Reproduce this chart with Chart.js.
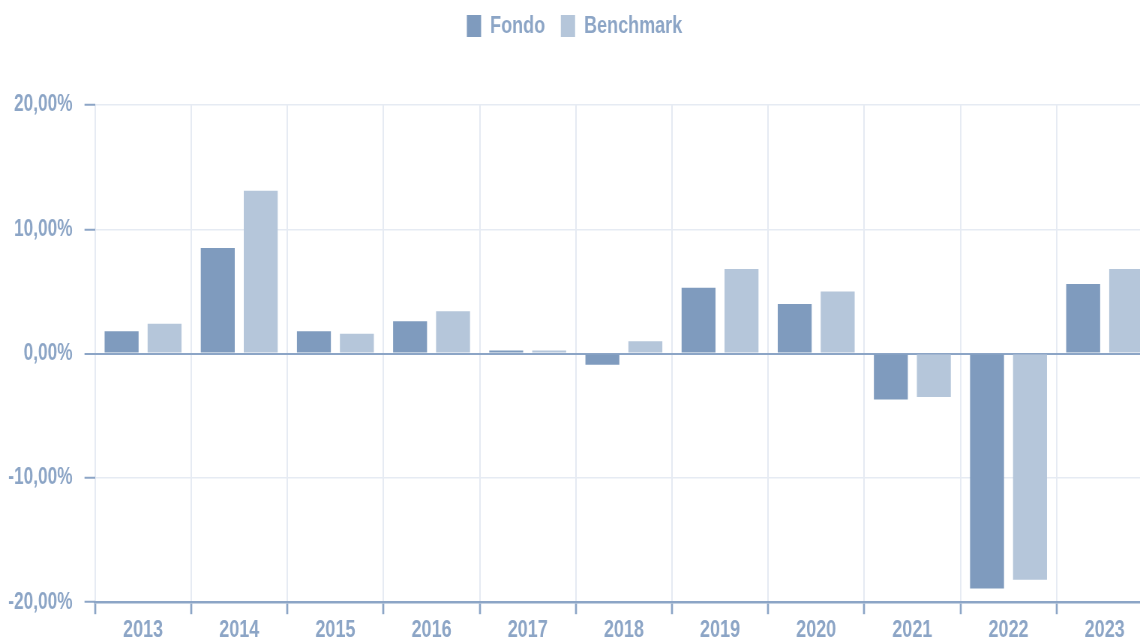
<!DOCTYPE html>
<html>
<head>
<meta charset="utf-8">
<script src="https://cdn.jsdelivr.net/npm/chart.js@4.4.0/dist/chart.umd.min.js"></script>
<style>
    html, body { margin: 0; padding: 0; background: #fff; overflow: hidden; }
    #wrap { width: 1140px; height: 639px; overflow: hidden; }
    /* the reference text is condensed; draw wide and squeeze horizontally */
    #squeeze { transform: scaleX(0.75); transform-origin: 0 0; width: 1547px; }
</style>
</head>
<body>
<div id="wrap"><div id="squeeze"><canvas id="chart" width="1547" height="660"></canvas></div></div>
<script>
// Data
const years = ["2013", "2014", "2015", "2016", "2017", "2018", "2019", "2020", "2021", "2022", "2023"];
const fondo = [1.8, 8.5, 1.8, 2.6, 0.25, -0.9, 5.3, 4.0, -3.7, -18.9, 5.6];
const benchmark = [2.4, 13.1, 1.6, 3.4, 0.25, 1.0, 6.8, 5.0, -3.5, -18.2, 6.8];

// Colors
const textColor = "#8ca5c6";
const gridColor = "#e6ebf3";
const axisColor = "#8ca5c6";
const family = "'Liberation Sans', Arial, sans-serif";
const font = { family, weight: "bold", size: 24 };
const yFont = { family, weight: "bold", size: 23 };

// Push the plot area down below the legend
const legendMargin = {
    id: "legendMargin",
    beforeInit(chart) {
        const fit = chart.legend.fit;
        chart.legend.fit = function () {
            fit.bind(chart.legend)();
            this.height += 57;
        };
    },
};

new Chart(document.getElementById("chart"), {
    type: "bar",
    data: {
        labels: years,
        datasets: [
            { label: "Fondo", data: fondo, backgroundColor: "#7f9bbe" },
            { label: "Benchmark", data: benchmark, backgroundColor: "#b5c6da" },
        ],
    },
    options: {
        responsive: false,
        animation: false,
        layout: { padding: { left: -5, right: 10, top: -7, bottom: 13 } },
        datasets: { bar: { categoryPercentage: 0.894, barPercentage: 0.79 } },
        plugins: {
            legend: {
                position: "top",
                labels: { color: textColor, font, boxWidth: 19, boxHeight: 22, padding: 21 },
            },
            tooltip: { enabled: false },
        },
        scales: {
            x: {
                grid: { color: gridColor, lineWidth: 2, tickColor: axisColor, tickLength: 12, tickWidth: 2.67, offset: true },
                border: { color: axisColor, width: 2.5 },
                ticks: { color: textColor, font, padding: 2 },
            },
            y: {
                min: -20,
                max: 20,
                ticks: {
                    stepSize: 10,
                    color: textColor,
                    font: yFont,
                    padding: 16,
                    callback: (v) => v.toFixed(2).replace(".", ",") + "%",
                },
                grid: {
                    color: (ctx) => (ctx.tick && ctx.tick.value === 0 ? axisColor : gridColor),
                    lineWidth: (ctx) => (ctx.tick && ctx.tick.value === 0 ? 2 : 1.5),
                    tickColor: axisColor,
                    tickLength: 14,
                    tickWidth: 2,
                },
                border: { display: false },
            },
        },
    },
    plugins: [legendMargin],
});
</script>
</body>
</html>
